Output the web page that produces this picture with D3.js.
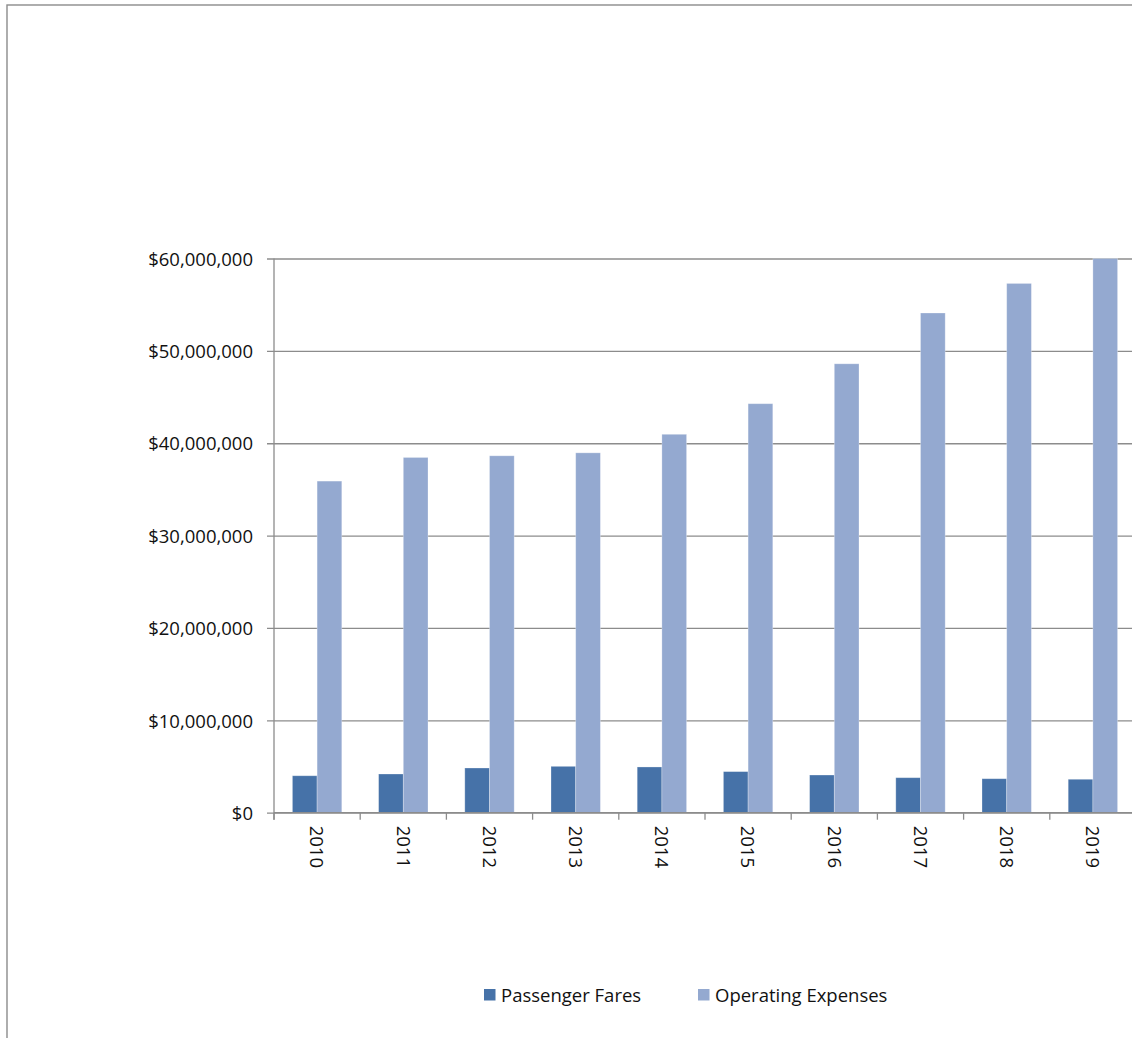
<!DOCTYPE html>
<html>
<head>
<meta charset="utf-8">
<script src="https://cdn.jsdelivr.net/npm/d3@7"></script>
<style>
  body { margin: 0; background: #fff; }
  svg { display: block; }
  text { font-family: "Open Sans", "Liberation Sans", sans-serif; fill: #111; }
</style>
</head>
<body>
<div id="chart"></div>
<script>
// Data
var years = ["2010", "2011", "2012", "2013", "2014", "2015", "2016", "2017", "2018", "2019"];
var passengerFares = [4000000, 4190000, 4840000, 5020000, 4950000, 4450000, 4080000, 3790000, 3680000, 3620000];
var operatingExpenses = [35900000, 38460000, 38640000, 38960000, 40970000, 44280000, 48600000, 54100000, 57300000, 60000000];
var seriesNames = ["Passenger Fares", "Operating Expenses"];
var yTicks = [0, 10000000, 20000000, 30000000, 40000000, 50000000, 60000000];

var colors = ["#4672a8", "#94a9d0"];

var W = 1132, H = 1038;
var fontSize = "18.5px";
// note: "top" is taken by window.top, so use plot* names
var plotLeft = 274, plotTop = 258.5, plotBottom = 812.7, band = 86.2;

var svg = d3.select("#chart")
  .append("svg")
  .attr("width", W)
  .attr("height", H);

// outer chart frame (runs off the right and bottom edges)
svg.append("rect")
  .attr("x", 7)
  .attr("y", 5)
  .attr("width", W + 20)
  .attr("height", H + 20)
  .attr("fill", "none")
  .attr("stroke", "#8c8c8c")
  .attr("stroke-width", 1.4);

var x = d3.scaleBand()
  .domain(years)
  .range([plotLeft, plotLeft + band * years.length])
  .paddingInner(0)
  .paddingOuter(0);

var inner = d3.scaleBand()
  .domain(seriesNames)
  .range([18.4, band - 18.4]);

var y = d3.scaleLinear()
  .domain([0, 60000000])
  .range([plotBottom, plotTop]);

var fmt = function(d) { return "$" + d3.format(",")(d); };

// gridlines + y axis
var yAxis = svg.append("g")
  .attr("transform", "translate(" + plotLeft + ",0)")
  .call(d3.axisLeft(y).tickValues(yTicks).tickFormat(fmt).tickSize(0))
  .call(g => g.select(".domain").remove());

yAxis.selectAll(".tick line")
  .attr("x1", -7)
  .attr("x2", W - plotLeft + 10)
  .attr("stroke", "#8c8c8c")
  .attr("stroke-width", 1.3);

yAxis.selectAll(".tick text")
  .attr("x", -21)
  .attr("dy", "0.36em")
  .attr("text-anchor", "end")
  .style("font-size", fontSize)
  .style("font-family", "'Open Sans', 'Liberation Sans', sans-serif")
  .attr("fill", "#111");

// bars
var table = years.map(function(yr, i) {
  return {year: yr, values: [passengerFares[i], operatingExpenses[i]]};
});

svg.append("g")
  .selectAll("g")
  .data(table)
  .join("g")
    .attr("transform", d => "translate(" + x(d.year) + ",0)")
  .selectAll("rect")
  .data(d => d.values.map((v, k) => ({key: seriesNames[k], value: v, k: k})))
  .join("rect")
    .attr("x", d => inner(d.key))
    .attr("width", inner.bandwidth())
    .attr("y", d => y(d.value))
    .attr("height", d => plotBottom - y(d.value))
    .attr("fill", d => colors[d.k])
    .attr("stroke", "#ffffff")
    .attr("stroke-opacity", 0.35)
    .attr("stroke-width", 0.8);

// x axis with ticks at the category boundaries
var bounds = years.map(d => x(d)).concat([x.range()[1]]);
var xAxis = svg.append("g");
xAxis.append("line")
  .attr("x1", plotLeft).attr("x2", W + 10)
  .attr("y1", plotBottom).attr("y2", plotBottom)
  .attr("stroke", "#8c8c8c").attr("stroke-width", 1.3);
xAxis.append("line")
  .attr("x1", plotLeft).attr("x2", plotLeft)
  .attr("y1", plotTop).attr("y2", plotBottom + 7)
  .attr("stroke", "#8c8c8c").attr("stroke-width", 1.3);
xAxis.selectAll(".btick")
  .data(bounds)
  .join("line")
    .attr("class", "btick")
    .attr("x1", d => d).attr("x2", d => d)
    .attr("y1", plotBottom).attr("y2", plotBottom + 7)
    .attr("stroke", "#8c8c8c").attr("stroke-width", 1.3);

xAxis.selectAll(".ylab")
  .data(years)
  .join("text")
    .attr("class", "ylab")
    .attr("transform", d => "translate(" + (x(d) + band / 2) + "," + (plotBottom + 13) + ") rotate(90)")
    .attr("dy", "0.36em")
    .attr("text-anchor", "start")
    .style("font-size", fontSize)
    .text(d => d);

// legend
var legendX = [484, 698];
var legend = svg.append("g")
  .selectAll("g")
  .data(seriesNames)
  .join("g")
    .attr("transform", (d, i) => "translate(" + legendX[i] + ",989)");

legend.append("rect")
  .attr("width", 11.5)
  .attr("height", 11.5)
  .attr("fill", (d, i) => colors[i]);

legend.append("text")
  .attr("x", 17)
  .attr("y", 6)
  .attr("dy", "0.36em")
  .style("font-size", fontSize)
  .text(d => d);
</script>
</body>
</html>
